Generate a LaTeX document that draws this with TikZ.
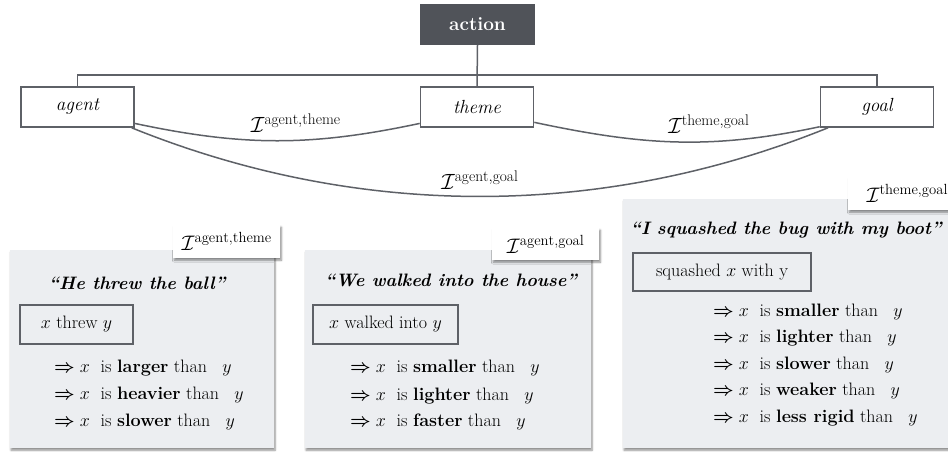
\RequirePackage{fix-cm}
\documentclass[tikz,border=0pt]{standalone}
\usepackage{fontspec}
\usepackage{amsmath}
\usetikzlibrary{shadows.blur}
\definecolor{boxline}{HTML}{5E6167}
\definecolor{actfill}{HTML}{505359}
\definecolor{panelfill}{HTML}{ECEEF1}
\newcommand{\impl}[1]{$\boldsymbol{\Rightarrow} x$\hspace{0.6em}is \textbf{#1} than\hspace{0.85em}$y$}
\begin{document}
\begin{tikzpicture}[x=1pt,y=1pt,
  every node/.style={font=\fontsize{18}{22}\selectfont},
  link/.style={draw=boxline, line width=1.5pt},
  rolebox/.style={draw=boxline, line width=1.6pt, fill=white, minimum width=113pt,
    minimum height=40pt, inner sep=0pt, font=\fontsize{19}{23}\selectfont\itshape},
  actbox/.style={fill=actfill, text=white, minimum width=115pt, minimum height=41pt,
    inner sep=0pt, font=\fontsize{19}{23}\selectfont\bfseries},
  panel/.style={fill=panelfill, anchor=north west, inner sep=0pt,
    blur shadow={shadow xshift=0.8pt, shadow yshift=-2pt, shadow blur radius=2pt,
      shadow blur steps=6, shadow opacity=45}},
  tagbox/.style={fill=white, anchor=north west, inner sep=0pt,
    blur shadow={shadow xshift=1.2pt, shadow yshift=-2pt, shadow blur radius=2pt,
      shadow blur steps=6, shadow opacity=45}},
  curvelabel/.style={font=\fontsize{22}{26}\selectfont},
  tagtext/.style={font=\fontsize{21}{25}\selectfont},
  title/.style={font=\fontsize{18}{22}\selectfont\bfseries\itshape},
  relbox/.style={draw=boxline, line width=1.4pt, inner sep=0pt},
  rule/.style={anchor=west, inner sep=0pt},
]
\clip (0,0) rectangle (948,-452);
\useasboundingbox (0,0) rectangle (948,-452);

% top: action and its three roles
\node[actbox] (action) at (477.5,-24.5) {action};
\node[rolebox] (agent) at (77.5,-107) {agent};
\node[rolebox] (theme) at (477,-107) {theme};
\node[rolebox] (goal) at (877,-107) {goal};
\coordinate (bar) at (477,-75);

\draw[link] (action.south) -- (theme.north);
\draw[link] (agent.north) |- (bar) -| (goal.north);

% pairwise interaction curves
\draw[link] (agent.-16) to[out=-12, in=192]
  node[pos=0.57, above=4pt, curvelabel] (lat) {$\mathcal{I}^{\mathrm{agent,theme}}$} (theme.196);
\draw[link] (theme.-15) to[out=-12, in=192]
  node[pos=0.62, above=4pt, curvelabel] (ltg) {$\mathcal{I}^{\mathrm{theme,goal}}$} (goal.199);
\draw[link] (agent.-21) to[out=-22, in=202, looseness=0.9]
  node[pos=0.5, above=3pt, curvelabel] (lag) {$\mathcal{I}^{\mathrm{agent,goal}}$} (goal.203);

% panel 1: agent / theme
\node[panel, minimum width=264pt, minimum height=198pt] (p1) at (10,-250) {};
\node[tagbox, minimum width=107pt, minimum height=33pt] (t1) at (173,-225) {};
\node[tagtext] at (t1) {$\mathcal{I}^{\mathrm{agent,theme}}$};
\node[title] (h1) at (137,-283) {``He threw the ball''};
\node[relbox, minimum width=113pt, minimum height=39pt] (b1) at (76.5,-324.5) {$x$ threw $y$};
\node[rule] (r11) at (54,-368) {\impl{larger}};
\node[rule] (r12) at (54,-395) {\impl{heavier}};
\node[rule] (r13) at (54,-422) {\impl{slower}};

% panel 2: agent / goal
\node[panel, minimum width=286pt, minimum height=198pt] (p2) at (305,-250) {};
\node[tagbox, minimum width=107pt, minimum height=32pt] (t2) at (492,-228) {};
\node[tagtext] at (t2) {$\mathcal{I}^{\mathrm{agent,goal}}$};
\node[title] (h2) at (451,-280) {``We walked into the house''};
\node[relbox, minimum width=145pt, minimum height=39pt] (b2) at (385.5,-324.5) {$x$ walked into $y$};
\node[rule] (r21) at (350,-368) {\impl{smaller}};
\node[rule] (r22) at (350,-396) {\impl{lighter}};
\node[rule] (r23) at (350,-422) {\impl{faster}};

% panel 3: theme / goal
\node[panel, minimum width=340pt, minimum height=249pt] (p3) at (623,-199) {};
\node[tagbox, minimum width=112pt, minimum height=33pt] (t3) at (848,-177) {};
\node[tagtext, anchor=west] at (863,-193.5) {$\mathcal{I}^{\mathrm{theme,goal}}$};
\node[title] (h3) at (786,-230) {``I squashed the bug with my boot''};
\node[relbox, minimum width=178pt, minimum height=38pt] (b3) at (722,-272) {squashed $x$ with y};
\node[rule] (r31) at (713,-312) {\impl{smaller}};
\node[rule] (r32) at (713,-338) {\impl{lighter}};
\node[rule] (r33) at (713,-365) {\impl{slower}};
\node[rule] (r34) at (713,-391) {\impl{weaker}};
\node[rule] (r35) at (713,-418) {\impl{less rigid}};
\end{tikzpicture}
\end{document}
